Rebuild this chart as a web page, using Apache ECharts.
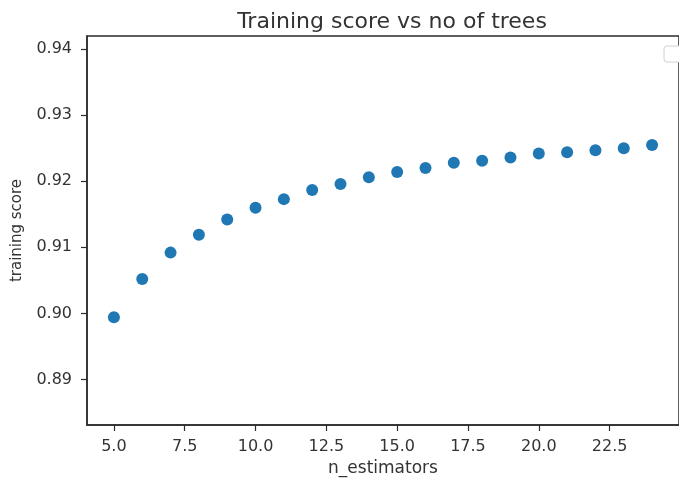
<!DOCTYPE html>
<html>
<head>
<meta charset="utf-8">
<script src="https://cdn.jsdelivr.net/npm/echarts@6/dist/echarts.min.js"></script>
<style>
html, body { margin: 0; padding: 0; background: #fff; }
#main { width: 679px; height: 488px; }
</style>
</head>
<body>
<div id="main"></div>
<script>
// n_estimators tried and the score
var nEstimators = [5, 6, 7, 8, 9, 10, 11, 12, 13, 14, 15, 16, 17, 18, 19, 20, 21, 22, 23, 24];
var trainingScore = [0.8994, 0.9052, 0.9092, 0.9119, 0.9142, 0.9160, 0.9173, 0.9187, 0.9196, 0.9206,
	0.9214, 0.9220, 0.9228, 0.9231, 0.9236, 0.9242, 0.9244, 0.9247, 0.9250, 0.9255];
var xTicks = [5, 7.5, 10, 12.5, 15, 17.5, 20, 22.5];
var yTicks = [0.89, 0.90, 0.91, 0.92, 0.93, 0.94];

var points = [];
for (var i = 0; i < nEstimators.length; i++) {
	points.push([nEstimators[i], trainingScore[i]]);
}

var textColor = "#333";
var lineColor = "#2b2b2b";
var font = "DejaVu Sans";

var chart = echarts.init(document.getElementById("main"));
chart.setOption({
	animation: false,
	backgroundColor: "#fff",
	title: {
		text: "Training score vs no of trees",
		left: 387,
		top: 6,
		textAlign: "center",
		textStyle: { fontFamily: font, fontSize: 22, fontWeight: "normal", color: textColor }
	},
	grid: {
		left: 87, top: 36, width: 601, height: 389,
		show: true, borderColor: lineColor, borderWidth: 1.5
	},
	xAxis: {
		type: "value",
		min: 4.05, max: 24.95,
		name: "n_estimators",
		nameLocation: "middle",
		nameGap: 34,
		nameTextStyle: { fontFamily: font, fontSize: 17, color: textColor },
		axisLine: { show: true, lineStyle: { color: lineColor, width: 1.5 } },
		axisTick: { show: true, length: 6, customValues: xTicks, lineStyle: { color: lineColor, width: 1.2 } },
		axisLabel: {
			customValues: xTicks, margin: 14,
			fontFamily: font, fontSize: 16, color: textColor,
			formatter: function (v) { return v.toFixed(1); }
		},
		splitLine: { show: false }
	},
	yAxis: {
		type: "value",
		min: 0.8831, max: 0.9420,
		name: "training score",
		nameLocation: "middle",
		nameGap: 62,
		nameTextStyle: { fontFamily: font, fontSize: 15, color: textColor },
		axisLine: { show: true, lineStyle: { color: lineColor, width: 1.5 } },
		axisTick: { show: true, length: 6, customValues: yTicks, lineStyle: { color: lineColor, width: 1.2 } },
		axisLabel: {
			customValues: yTicks, margin: 15,
			fontFamily: font, fontSize: 16, color: textColor,
			formatter: function (v) { return v.toFixed(2); }
		},
		splitLine: { show: false }
	},
	// empty legend box in the top right corner
	graphic: [{
		type: "rect",
		shape: { x: 664, y: 46, width: 22, height: 16, r: 3 },
		style: { fill: "#fff", stroke: "#d0d0d0", lineWidth: 1 }
	}],
	series: [{
		type: "scatter",
		data: points,
		symbolSize: 12,
		itemStyle: { color: "#1f77b4", opacity: 1 }
	}]
});
</script>
</body>
</html>
